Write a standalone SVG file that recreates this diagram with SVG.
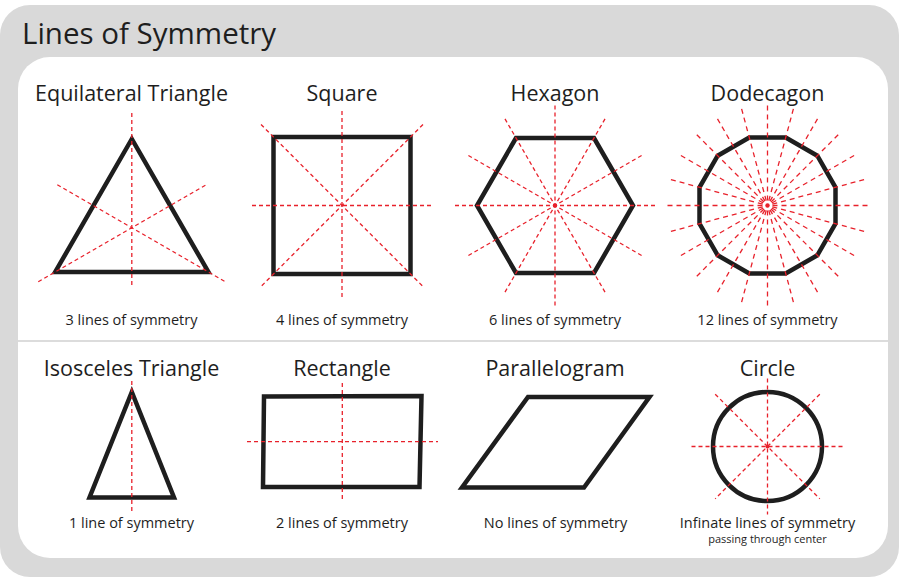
<svg xmlns="http://www.w3.org/2000/svg" width="900" height="585" viewBox="0 0 900 585">
<style>
.shape{fill:none;stroke:#1e1e1e;stroke-width:4.5;stroke-linejoin:miter}
.sym{stroke:#e8212b;stroke-width:1.3;stroke-dasharray:4 3;fill:none}
.ray{stroke:#e8212b;stroke-width:1.3;stroke-dasharray:5 4;fill:none}
.dot{fill:#e8212b}
.title{font-family:'Open Sans','DejaVu Sans',sans-serif;font-size:29.5px;fill:#1e1e1e}
.head{font-family:'Open Sans','DejaVu Sans',sans-serif;font-size:21.5px;fill:#1e1e1e;text-anchor:middle}
.cap{font-family:'Open Sans','DejaVu Sans',sans-serif;font-size:14.5px;fill:#1e1e1e;text-anchor:middle}
.sub{font-family:'Open Sans','DejaVu Sans',sans-serif;font-size:11px;fill:#1e1e1e;text-anchor:middle}
</style>
<rect x="0" y="0" width="900" height="585" fill="#ffffff"/>
<rect x="0" y="5" width="899" height="572" rx="30" fill="#d9d9d9"/>
<rect x="18" y="57" width="870" height="501" rx="32" fill="#ffffff"/>
<line x1="18" y1="341" x2="888" y2="341" stroke="#dcdcdc" stroke-width="2"/>
<text class="title" x="22" y="44">Lines of Symmetry</text>

<g id="equilateral-triangle">
<text class="head" x="131.5" y="101">Equilateral Triangle</text>
<polygon class="shape" points="131.8,139 55.2,272 208.4,272"/>
<line class="sym" x1="131.8" y1="113" x2="131.8" y2="288"/>
<line class="sym" x1="57.3" y1="184.7" x2="225.3" y2="281.7"/>
<line class="sym" x1="205.4" y1="185.2" x2="37.4" y2="282.2"/>
<text class="cap" x="131.5" y="325">3 lines of symmetry</text>
</g>

<g id="square">
<text class="head" x="342" y="101">Square</text>
<rect class="shape" x="273.5" y="137" width="137" height="137"/>
<line class="sym" x1="342" y1="111" x2="342" y2="300"/>
<line class="sym" x1="252" y1="205.5" x2="432" y2="205.5"/>
<line class="sym" x1="261" y1="124.5" x2="423" y2="286.5"/>
<line class="sym" x1="423" y1="124.5" x2="261" y2="286.5"/>
<text class="cap" x="342" y="325">4 lines of symmetry</text>
</g>

<g id="hexagon">
<text class="head" x="555" y="101">Hexagon</text>
<polygon class="shape" points="516,138 594,138 633,205.5 594,273 516,273 477,205.5"/>
<g transform="translate(555 205.5)">
<line class="sym" x1="-100" y1="0" x2="100" y2="0"/>
<line class="sym" x1="-86.6" y1="-50" x2="86.6" y2="50"/>
<line class="sym" x1="-50" y1="-86.6" x2="50" y2="86.6"/>
<line class="sym" x1="0" y1="-100" x2="0" y2="100"/>
<line class="sym" x1="50" y1="-86.6" x2="-50" y2="86.6"/>
<line class="sym" x1="86.6" y1="-50" x2="-86.6" y2="50"/>
<circle class="dot" cx="0" cy="0" r="2.2"/>
</g>
<text class="cap" x="555" y="325">6 lines of symmetry</text>
</g>

<g id="dodecagon">
<text class="head" x="767.5" y="101">Dodecagon</text>
<g transform="translate(767.5 205.5)">
<polygon class="shape" points="68,18.2 49.8,49.8 18.2,68 -18.2,68 -49.8,49.8 -68,18.2 -68,-18.2 -49.8,-49.8 -18.2,-68 18.2,-68 49.8,-49.8 68,-18.2"/>
<line class="ray" x1="5" y1="0" x2="100" y2="0" transform="rotate(0)"/>
<line class="ray" x1="5" y1="0" x2="100" y2="0" transform="rotate(15)"/>
<line class="ray" x1="5" y1="0" x2="100" y2="0" transform="rotate(30)"/>
<line class="ray" x1="5" y1="0" x2="100" y2="0" transform="rotate(45)"/>
<line class="ray" x1="5" y1="0" x2="100" y2="0" transform="rotate(60)"/>
<line class="ray" x1="5" y1="0" x2="100" y2="0" transform="rotate(75)"/>
<line class="ray" x1="5" y1="0" x2="100" y2="0" transform="rotate(90)"/>
<line class="ray" x1="5" y1="0" x2="100" y2="0" transform="rotate(105)"/>
<line class="ray" x1="5" y1="0" x2="100" y2="0" transform="rotate(120)"/>
<line class="ray" x1="5" y1="0" x2="100" y2="0" transform="rotate(135)"/>
<line class="ray" x1="5" y1="0" x2="100" y2="0" transform="rotate(150)"/>
<line class="ray" x1="5" y1="0" x2="100" y2="0" transform="rotate(165)"/>
<line class="ray" x1="5" y1="0" x2="100" y2="0" transform="rotate(180)"/>
<line class="ray" x1="5" y1="0" x2="100" y2="0" transform="rotate(195)"/>
<line class="ray" x1="5" y1="0" x2="100" y2="0" transform="rotate(210)"/>
<line class="ray" x1="5" y1="0" x2="100" y2="0" transform="rotate(225)"/>
<line class="ray" x1="5" y1="0" x2="100" y2="0" transform="rotate(240)"/>
<line class="ray" x1="5" y1="0" x2="100" y2="0" transform="rotate(255)"/>
<line class="ray" x1="5" y1="0" x2="100" y2="0" transform="rotate(270)"/>
<line class="ray" x1="5" y1="0" x2="100" y2="0" transform="rotate(285)"/>
<line class="ray" x1="5" y1="0" x2="100" y2="0" transform="rotate(300)"/>
<line class="ray" x1="5" y1="0" x2="100" y2="0" transform="rotate(315)"/>
<line class="ray" x1="5" y1="0" x2="100" y2="0" transform="rotate(330)"/>
<line class="ray" x1="5" y1="0" x2="100" y2="0" transform="rotate(345)"/>
<circle class="dot" cx="0" cy="0" r="2.2"/>
</g>
<text class="cap" x="767.5" y="325">12 lines of symmetry</text>
</g>

<g id="isosceles-triangle">
<text class="head" x="131.5" y="376">Isosceles Triangle</text>
<polygon class="shape" points="131.8,392 89.5,497.5 174,497.5"/>
<line class="sym" x1="131.8" y1="381" x2="131.8" y2="513"/>
<text class="cap" x="131.5" y="528">1 line of symmetry</text>
</g>

<g id="rectangle">
<text class="head" x="342" y="376">Rectangle</text>
<polygon class="shape" points="264,396.5 421.5,396 419.5,487 263,487"/>
<line class="sym" x1="342.3" y1="383" x2="342.3" y2="501"/>
<line class="sym" x1="247" y1="441.7" x2="438" y2="441.7"/>
<text class="cap" x="342" y="528">2 lines of symmetry</text>
</g>

<g id="parallelogram">
<text class="head" x="555" y="376">Parallelogram</text>
<polygon class="shape" points="528,397 649.5,397 584,487.5 462,487.5"/>
<text class="cap" x="555.5" y="528">No lines of symmetry</text>
</g>

<g id="circle">
<text class="head" x="767.5" y="376">Circle</text>
<circle class="shape" cx="767.5" cy="446.5" r="54.5"/>
<g transform="translate(767.5 446.5)">
<line class="sym" x1="-76" y1="0" x2="76" y2="0"/>
<line class="sym" x1="0" y1="-68" x2="0" y2="68"/>
<line class="sym" x1="-52.3" y1="-52.3" x2="52.3" y2="52.3"/>
<line class="sym" x1="52.3" y1="-52.3" x2="-52.3" y2="52.3"/>
<circle class="dot" cx="0" cy="0" r="2"/>
</g>
<text class="cap" x="767.5" y="528">Infinate lines of symmetry</text>
<text class="sub" x="767.5" y="543">passing through center</text>
</g>
</svg>
